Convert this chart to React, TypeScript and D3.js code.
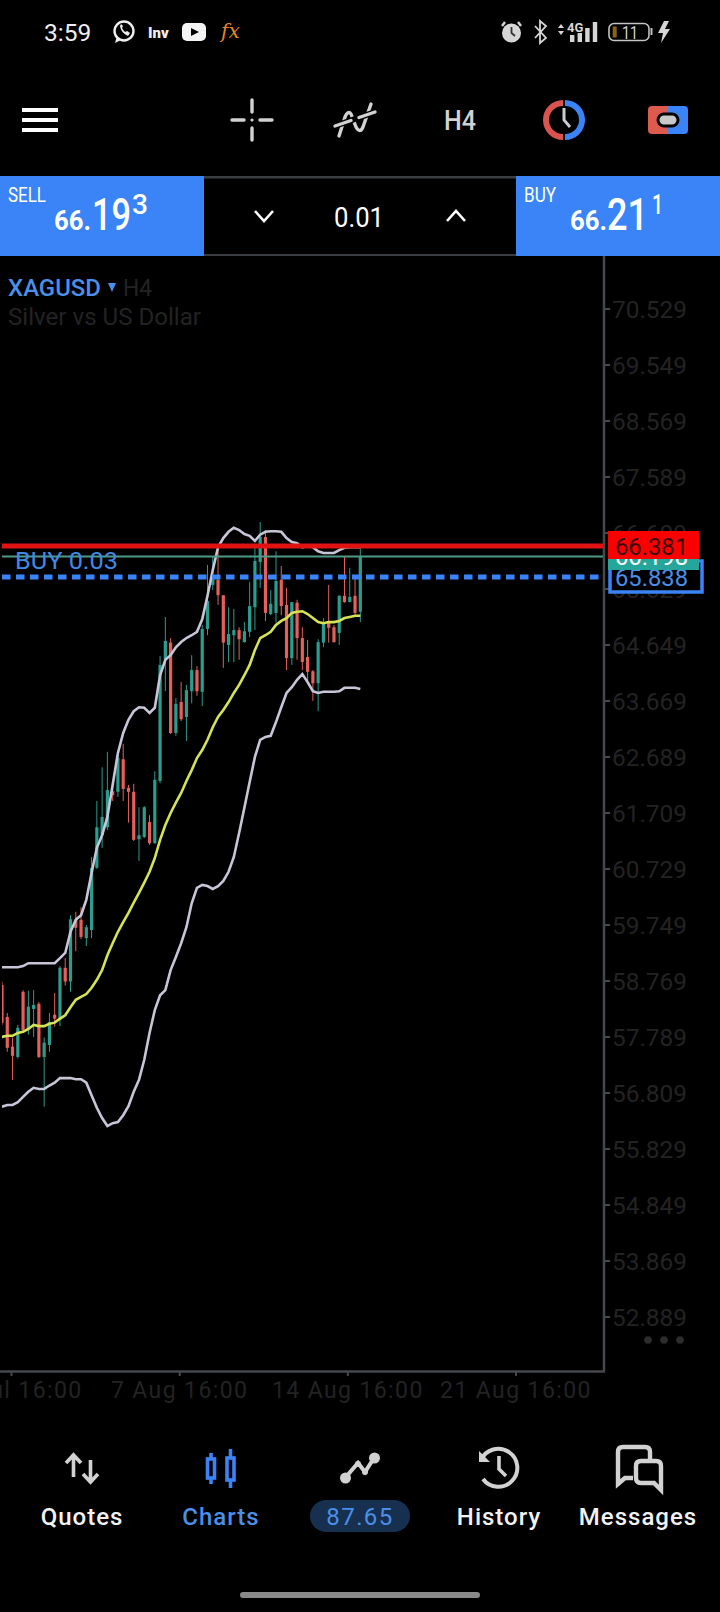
import React from 'react';
import * as d3 from 'd3';

const opens = [58.70,58.14,57.62,57.44,58.58,57.91,58.28,58.37,57.44,57.65,58.18,58.09,59.00,58.76,59.84,59.84,59.52,59.66,60.75,61.32,61.46,62.09,62.08,62.65,62.15,62.08,61.25,61.29,61.55,61.18,62.27,64.39,64.69,63.11,63.65,63.39,63.84,64.21,63.83,64.93,65.70,65.79,65.52,64.65,64.82,64.91,64.70,64.88,65.31,66.10,66.54,65.19,65.21,65.79,65.35,64.42,65.39,64.77,64.44,64.19,63.98,64.69,65.05,64.96,64.86,65.51,65.40,65.51,65.23];
const highs = [58.76,58.21,57.78,58.00,58.61,58.60,58.61,58.40,57.78,58.21,58.56,59.03,59.17,59.92,59.98,60.06,59.75,60.94,61.92,62.51,62.78,62.25,62.72,62.92,62.20,62.22,61.81,61.83,61.67,62.44,64.46,65.14,64.77,63.72,64.00,63.95,64.47,64.28,65.00,66.05,66.19,66.40,65.52,65.31,65.28,64.96,65.05,65.75,66.36,66.80,66.66,65.61,66.29,66.03,65.65,65.40,65.44,64.96,64.74,64.21,64.75,65.12,65.70,65.00,65.52,66.19,66.00,65.82,66.36];
const lows = [58.00,57.53,57.04,57.41,57.88,57.83,57.79,57.42,56.57,57.53,57.97,57.98,58.69,58.58,59.29,59.50,59.38,59.52,60.73,61.10,61.41,61.92,61.99,61.92,61.54,61.22,60.87,61.27,61.15,61.17,62.23,63.84,63.09,63.06,63.32,62.97,63.63,63.76,63.58,64.82,65.61,65.35,64.25,64.35,64.35,64.39,64.69,64.79,64.91,65.65,65.07,65.17,65.04,65.17,64.21,64.30,64.39,64.21,64.00,63.67,63.49,64.61,64.69,64.69,64.65,65.39,65.40,65.17,65.05];
const closes = [58.04,57.60,57.46,57.95,57.91,58.32,58.35,57.44,57.69,58.05,58.11,59.00,58.76,59.85,59.70,59.54,59.71,60.75,61.46,61.64,62.11,62.02,62.67,62.13,62.08,61.24,61.32,61.81,61.18,62.29,64.30,64.72,63.11,63.62,63.35,63.86,64.21,63.84,64.93,65.42,65.87,65.52,64.69,64.84,64.91,64.75,64.89,65.33,66.12,66.54,65.21,65.37,65.77,65.33,64.42,65.40,64.77,64.35,64.18,63.98,64.70,65.05,64.95,64.70,65.51,65.40,65.49,65.21,66.20];

const upperBand = [59.01,59.01,59.01,59.01,59.03,59.08,59.08,59.08,59.08,59.08,59.08,59.17,59.26,59.63,59.84,59.92,60.19,60.66,61.10,61.32,61.64,62.20,62.76,63.11,63.34,63.49,63.56,63.55,63.46,63.55,64.12,64.39,64.47,64.61,64.70,64.77,64.82,64.88,65.10,65.51,65.96,66.36,66.52,66.63,66.70,66.66,66.59,66.56,66.47,66.58,66.63,66.64,66.64,66.63,66.52,66.45,66.43,66.36,66.38,66.36,66.29,66.26,66.26,66.26,66.31,66.35,66.36,66.36,66.36];
const middleBand = [57.79,57.81,57.81,57.86,57.88,57.93,58.00,57.98,57.98,58.02,58.04,58.11,58.17,58.31,58.44,58.49,58.54,58.65,58.79,58.96,59.22,59.43,59.63,59.80,59.96,60.14,60.31,60.49,60.68,60.92,61.24,61.50,61.71,61.89,62.06,62.27,62.46,62.67,62.81,62.99,63.21,63.39,63.51,63.65,63.81,63.95,64.12,64.30,64.56,64.77,64.82,64.88,65.00,65.07,65.12,65.21,65.23,65.24,65.19,65.12,65.05,65.03,65.05,65.05,65.07,65.12,65.14,65.16,65.16];
const lowerBand = [56.57,56.60,56.60,56.65,56.74,56.83,56.90,56.88,56.88,56.94,56.99,57.07,57.07,57.07,57.05,57.05,56.99,56.77,56.55,56.37,56.23,56.28,56.30,56.42,56.58,56.83,57.04,57.39,57.86,58.26,58.52,58.61,58.96,59.19,59.43,59.71,60.13,60.40,60.45,60.43,60.38,60.43,60.52,60.68,60.94,61.36,61.80,62.25,62.69,62.99,63.04,63.06,63.30,63.56,63.81,63.91,64.04,64.14,64.00,63.84,63.81,63.83,63.83,63.83,63.84,63.90,63.90,63.90,63.88];

const yTicks = ['70.529','69.549','68.569','67.589','66.609','65.629','64.649','63.669','62.689','61.709','60.729','59.749','58.769','57.789','56.809','55.829','54.849','53.869','52.889'];
const xTicks = ['31 Jul 16:00','7 Aug 16:00','14 Aug 16:00','21 Aug 16:00'];

const stopPrice = 66.381;
const bidPrice = 66.198;
const entryPrice = 65.838;

const navItems = [
  { label: 'Quotes', x: 82, color: '#f2f2f2' },
  { label: 'Charts', x: 221, color: '#4a8fe8' },
  { label: 'History', x: 499, color: '#f2f2f2' },
  { label: 'Messages', x: 638, color: '#f2f2f2' },
];

const BLUE = '#3b84f7';
const UP = '#2a9d8f';
const DOWN = '#e5605a';
const DIM = '#232323';
const ICON = '#d2d2d2';
const AXIS = '#45484c';

const x = d3.scaleLinear().domain([0, opens.length - 1]).range([2, 360.3]);
const y = d3.scaleLinear().domain([70.529, 52.889]).range([309, 1317]);
const xt = d3.scalePoint<string>().domain(xTicks).range([11.5, 516]);

const bandLine = d3
  .line<number>()
  .x((_, i) => x(i))
  .y(d => y(d));

const StatusBar = () => (
  <g>
    <text x={44} y={41} fontSize={24.5} fill="#eee">3:59</text>
    <circle cx={124} cy={31} r={9.5} fill="none" stroke="#eee" strokeWidth={2.4} />
    <path d="M115 43 L117 36 L121 40 Z" fill="#eee" />
    <path d="M120 26 q1 7 8 10 l2 -3 l-3 -2 l-2 1 q-2 -2 -3 -4 l1 -2 l-2 -2 z" fill="#eee" />
    <text x={148} y={38} fontSize={15} fontWeight={900} fill="#eee">Inv</text>
    <rect x={182} y={23} width={24} height={18} rx={5} fill="#f4f4f4" />
    <path d="M191 28 L199 32 L191 36 Z" fill="#000" />
    <text x={221} y={38} fontSize={20} fontStyle="italic" fill="#e5862b" fontFamily="'DejaVu Serif', serif">fx</text>
    <circle cx={511.5} cy={33} r={9.5} fill="#d6d6d6" />
    <path d="M511.5 27 V33 L515 36" stroke="#333" strokeWidth={1.8} fill="none" />
    <path d="M502 26 L505 22 M521 26 L518 22" stroke="#d6d6d6" strokeWidth={2.4} />
    <path d="M535 26 L546 38 L540 43 V21 L546 26 L535 38" fill="none" stroke="#d6d6d6" strokeWidth={1.8} />
    <path d="M558 28 L561 24 L564 28 Z M558 31 L561 35 L564 31 Z" fill="#d6d6d6" />
    <text x={567} y={32} fontSize={13} fontWeight={700} fill="#d6d6d6">4G</text>
    {[0, 1, 2, 3].map(i => (
      <rect key={i} x={570 + i * 7.6} y={[35, 33, 28, 22][i]} width={4.4} height={[7, 9, 14, 20][i]} fill="#d6d6d6" />
    ))}
    <rect x={609} y={23.5} width={40} height={17} rx={5} fill="none" stroke="#c4c4c4" strokeWidth={1.6} />
    <rect x={612.7} y={26.5} width={4} height={11} fill="#8a6510" />
    <rect x={650.5} y={28} width={2} height={7} fill="#bdbdbd" />
    <text x={622} y={39} fontSize={19} fill="#d6d6d6" textLength={16} lengthAdjust="spacingAndGlyphs">11</text>
    <path d="M664 21 L658 33 H663 L661 43 L670 29 H665 L669 21 Z" fill="#d6d6d6" />
  </g>
);

const Toolbar = () => (
  <g>
    {[110, 120, 130].map(v => (
      <rect key={v} x={22} y={v - 2} width={36} height={4} fill="#fff" />
    ))}
    <path d="M252 100 V112 M252 128 V140 M232 120 H244 M260 120 H272" stroke={ICON} strokeWidth={3.4} strokeLinecap="round" />
    <circle cx={252} cy={120} r={1.6} fill={ICON} />
    <path d="M339 136 L345 117 Q348 110 351 114 L356 127 Q360 134 363 127 L371 104" fill="none" stroke={ICON} strokeWidth={3.4} strokeLinecap="round" />
    <path d="M335 126 L375 112" fill="none" stroke="#000" strokeWidth={6} />
    <path d="M335 126 L351 120.5 M359 117.5 L375 112" fill="none" stroke={ICON} strokeWidth={3.4} strokeLinecap="round" />
    <text x={460} y={130} fontSize={28} fontWeight={500} fill={ICON} textAnchor="middle" textLength={32} lengthAdjust="spacingAndGlyphs">H4</text>
    <path d={d3.arc()({ innerRadius: 14, outerRadius: 20, startAngle: Math.PI, endAngle: 2 * Math.PI }) ?? ''} transform="translate(563,120)" fill="#d9534f" />
    <path d={d3.arc()({ innerRadius: 14, outerRadius: 20, startAngle: 0, endAngle: Math.PI }) ?? ''} transform="translate(565,120)" fill={BLUE} />
    <path d="M564 108 V120 L570 127" fill="none" stroke="#c8ccd0" strokeWidth={3} />
    <path d="M648 110 q0 -4 4 -4 H668 V134 H652 q-4 0 -4 -4 Z" fill="#dc5a4e" />
    <path d="M668 106 H684 q4 0 4 4 V130 q0 4 -4 4 H668 Z" fill={BLUE} />
    <rect x={658} y={114} width={20} height={12} rx={6} fill="#c9c9c9" stroke="#000" strokeWidth={3} />
  </g>
);

const TradePanel = () => (
  <g>
    <rect x={0} y={176} width={204} height={80} fill={BLUE} />
    <rect x={516} y={176} width={204} height={80} fill={BLUE} />
    <rect x={204} y={176} width={312} height={2.5} fill="#3a3d42" />
    <rect x={204} y={254} width={312} height={2} fill="#3a3d42" />
    <g fill="#fff">
      <text x={8} y={202} fontSize={20} textLength={38} lengthAdjust="spacingAndGlyphs">SELL</text>
      <text x={54} y={230} fontSize={27} fontWeight={700} textLength={37} lengthAdjust="spacingAndGlyphs">66.</text>
      <text x={92} y={230} fontSize={44} fontWeight={500} textLength={39} lengthAdjust="spacingAndGlyphs">19</text>
      <text x={132} y={214} fontSize={27} fontWeight={500} textLength={16} lengthAdjust="spacingAndGlyphs">3</text>
      <text x={524} y={202} fontSize={20} textLength={32} lengthAdjust="spacingAndGlyphs">BUY</text>
      <text x={570} y={230} fontSize={27} fontWeight={700} textLength={37} lengthAdjust="spacingAndGlyphs">66.</text>
      <text x={607} y={230} fontSize={44} fontWeight={500} textLength={41} lengthAdjust="spacingAndGlyphs">21</text>
      <text x={652} y={214} fontSize={27} fontWeight={500} textLength={11} lengthAdjust="spacingAndGlyphs">1</text>
      <text x={359} y={227} fontSize={28} textAnchor="middle" textLength={50} lengthAdjust="spacingAndGlyphs">0.01</text>
    </g>
    <path d="M255 211 L264 221 L273 211 M447 221 L456 211 L465 221" fill="none" stroke="#fff" strokeWidth={2.6} />
  </g>
);

const Chart = () => (
  <g>
    <text x={8} y={296} fontSize={23} fontWeight={500} fill="#4a8fe8" textLength={93} lengthAdjust="spacingAndGlyphs">XAGUSD</text>
    <path d="M108 283 H116 L112 292 Z" fill="#4a8fe8" />
    <text x={123} y={296} fontSize={23} fill={DIM} textLength={29} lengthAdjust="spacingAndGlyphs">H4</text>
    <text x={8} y={325} fontSize={23} fill={DIM} textLength={193} lengthAdjust="spacingAndGlyphs">Silver vs US Dollar</text>

    {yTicks.map(t => (
      <g key={t}>
        <line x1={604} x2={610} y1={y(+t)} y2={y(+t)} stroke={AXIS} strokeWidth={2} />
        <text x={612} y={y(+t) + 8.5} fontSize={24} fill={DIM} textLength={75} lengthAdjust="spacingAndGlyphs">{t}</text>
      </g>
    ))}
    {xTicks.map(t => (
      <g key={t}>
        <line x1={xt(t)} x2={xt(t)} y1={1372} y2={1376} stroke={AXIS} strokeWidth={2} />
        <text x={xt(t)} y={1398} fontSize={23} fill={DIM} textAnchor="middle" letterSpacing={1.4}>{t}</text>
      </g>
    ))}
    <line x1={604} x2={604} y1={256} y2={1372} stroke={AXIS} strokeWidth={2.5} />
    <line x1={0} x2={605} y1={1371.5} y2={1371.5} stroke={AXIS} strokeWidth={2.5} />
    {[648, 664, 680].map(cx => (
      <circle key={cx} cx={cx} cy={1340} r={3.8} fill="#2c2c2c" />
    ))}

    <defs>
      <clipPath id="plot">
        <rect x={2} y={256} width={602} height={1115} />
      </clipPath>
    </defs>
    <g clipPath="url(#plot)">
      {opens.map((o, i) => {
        const c = closes[i];
        const color = c >= o ? UP : DOWN;
        return (
          <g key={i}>
            <line x1={x(i)} x2={x(i)} y1={y(highs[i])} y2={y(lows[i])} stroke={color} strokeWidth={1} />
            <rect x={x(i) - 1.6} width={3.2} y={y(Math.max(o, c))} height={Math.max(1, Math.abs(y(o) - y(c)))} fill={color} />
          </g>
        );
      })}
      <path d={bandLine(upperBand) ?? ''} fill="none" stroke="#c6c6d8" strokeWidth={2.6} />
      <path d={bandLine(lowerBand) ?? ''} fill="none" stroke="#c6c6d8" strokeWidth={2.6} />
      <path d={bandLine(middleBand) ?? ''} fill="none" stroke="#d8e255" strokeWidth={2.6} />
    </g>

    <line x1={2} x2={603} y1={y(bidPrice)} y2={y(bidPrice)} stroke="#4f9a87" strokeWidth={2} />
    <line x1={2} x2={603} y1={y(stopPrice)} y2={y(stopPrice)} stroke="#e01212" strokeWidth={5} />
    <line x1={2} x2={603} y1={y(entryPrice)} y2={y(entryPrice)} stroke={BLUE} strokeWidth={5} strokeDasharray="8.5 5.5" />
    <text x={15} y={569} fontSize={24} fill="#3f8ae6" textLength={103} lengthAdjust="spacingAndGlyphs">BUY 0.03</text>

    <rect x={610} y={561} width={92} height={31} fill="#000" stroke={BLUE} strokeWidth={3.5} />
    <text x={615} y={y(entryPrice) + 8.5} fontSize={24} fill="#4a8fe8" textLength={73} lengthAdjust="spacingAndGlyphs">{entryPrice.toFixed(3)}</text>
    <rect x={608} y={544} width={91} height={26} fill="#26a69a" />
    <text x={615} y={y(bidPrice) + 8.5} fontSize={24} fill="#fff" textLength={73} lengthAdjust="spacingAndGlyphs">{bidPrice.toFixed(3)}</text>
    <rect x={608} y={531} width={91} height={28} fill="#fb0000" />
    <text x={615} y={y(stopPrice) + 8.5} fontSize={24} fill="#3a0505" textLength={73} lengthAdjust="spacingAndGlyphs">{stopPrice.toFixed(3)}</text>
  </g>
);

const BottomNav = () => (
  <g>
    <path d="M73.5 1477 V1456 M66 1463 L73.5 1455 L81 1463 M90.5 1460 V1481 M83 1474 L90.5 1482 L98 1474" fill="none" stroke={ICON} strokeWidth={3.6} />
    <g fill="none" stroke={BLUE} strokeWidth={3.6}>
      <rect x={207.5} y={1459} width={7} height={19} />
      <path d="M211 1453 V1459 M211 1478 V1484" />
      <rect x={227} y={1458} width={7} height={22} />
      <path d="M230.5 1449 V1458 M230.5 1480 V1488" />
    </g>
    <path d="M345 1478 L358 1463 L365 1472 L374 1458" fill="none" stroke={ICON} strokeWidth={4} />
    <circle cx={345.5} cy={1478} r={5.5} fill={ICON} />
    <circle cx={374.5} cy={1458} r={5.5} fill={ICON} />
    <circle cx={358} cy={1464} r={3} fill={ICON} />
    <circle cx={365} cy={1472} r={3} fill={ICON} />
    <path d="M481 1460 A19 19 0 1 1 483 1479" fill="none" stroke={ICON} strokeWidth={4} />
    <path d="M479 1451 V1462 H490 Z" fill={ICON} />
    <path d="M499 1456 V1469 L506 1476" fill="none" stroke={ICON} strokeWidth={3.6} />
    <path d="M633 1478 H625 L618 1484 V1452 q0 -5 5 -5 H645 q5 0 5 5 V1460" fill="none" stroke={ICON} strokeWidth={4.4} />
    <path d="M641 1461 H656 q5 0 5 5 V1490 L654 1483 H641 q-5 0 -5 -5 V1466 q0 -5 5 -5 Z" fill="none" stroke={ICON} strokeWidth={4.4} />

    {navItems.map(d => (
      <text key={d.label} x={d.x} y={1525} fontSize={24} fontWeight={500} fill={d.color} textAnchor="middle" letterSpacing={1}>
        {d.label}
      </text>
    ))}
    <rect x={310} y={1500} width={100} height={32} rx={16} fill="#17304f" />
    <text x={360} y={1525} fontSize={24} fill="#4a8fe8" textAnchor="middle" letterSpacing={1.4}>87.65</text>
    <rect x={240} y={1592} width={240} height={6} rx={3} fill="#8a8a8a" />
  </g>
);

export default function App() {
  return (
    <svg
      width={720}
      height={1612}
      viewBox="0 0 720 1612"
      style={{ position: 'absolute', left: 0, top: 0, background: '#000', fontFamily: 'Roboto, sans-serif' }}
    >
      <rect width={720} height={1612} fill="#000" />
      <StatusBar />
      <Toolbar />
      <TradePanel />
      <Chart />
      <BottomNav />
    </svg>
  );
}
